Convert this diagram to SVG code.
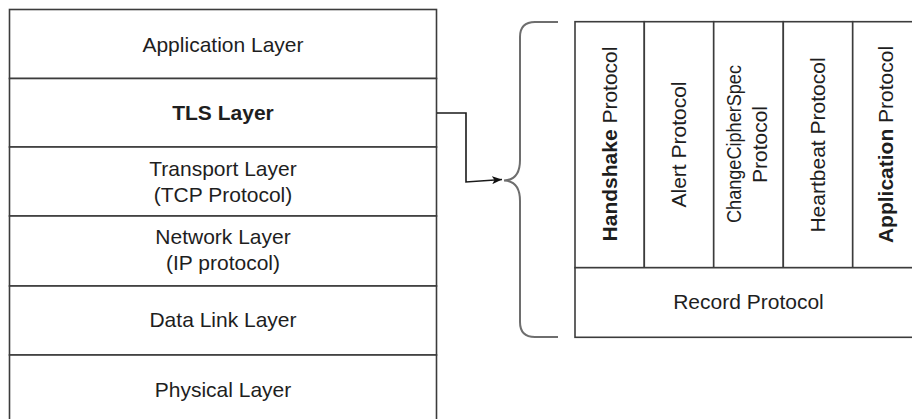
<svg xmlns="http://www.w3.org/2000/svg" width="912" height="419" viewBox="0 0 912 419">
<style>
.box{fill:#ffffff;stroke:#3c3c3c;stroke-width:1.6}
.t{font-family:"Liberation Sans",Arial,sans-serif;font-size:21px;fill:#1e1e1e;text-anchor:middle}
.b{font-weight:bold}
.conn{fill:none;stroke:#1a1a1a;stroke-width:1.6}
.brace{fill:none;stroke:#6e6e6e;stroke-width:2}
</style>
<defs>
<marker id="arr" viewBox="0 0 10 8" refX="10" refY="4" markerWidth="10" markerHeight="8" markerUnits="userSpaceOnUse" orient="auto">
<path d="M0,0 L10,4 L0,8 L2.5,4 Z" fill="#111"/>
</marker>
</defs>
<rect width="912" height="419" fill="#ffffff"/>
<g id="app-layer"><rect class="box" x="9.5" y="9.5" width="427" height="69"/><text class="t" x="223" y="52">Application Layer</text></g>
<g id="tls-layer"><rect class="box" x="9.5" y="78.5" width="427" height="68.5"/><text class="t b" x="223" y="120">TLS Layer</text></g>
<g id="transport-layer"><rect class="box" x="9.5" y="147" width="427" height="69"/><text class="t" x="223" y="176">Transport Layer</text><text class="t" x="223" y="202">(TCP Protocol)</text></g>
<g id="network-layer"><rect class="box" x="9.5" y="216" width="427" height="70"/><text class="t" x="223" y="244">Network Layer</text><text class="t" x="223" y="270">(IP protocol)</text></g>
<g id="datalink-layer"><rect class="box" x="9.5" y="286" width="427" height="69"/><text class="t" x="223" y="327">Data Link Layer</text></g>
<g id="physical-layer"><rect class="box" x="9.5" y="355" width="427" height="70"/><text class="t" x="223" y="397">Physical Layer</text></g>

<g id="connectors">
<polyline class="conn" points="437,113 466,113 466,182 502,179.5" marker-end="url(#arr)"/>
<path id="brace" class="brace" d="M558,22 H535 Q520,22 520,37 V160 Q520,180 504,180.5 Q520,181 520,201 V322 Q520,337 535,337 H558"/>
</g>

<g id="handshake"><rect class="box" x="575" y="21.7" width="69.3" height="246"/><text class="t" transform="translate(617,144) rotate(-90)"><tspan class="b">Handshake</tspan> Protocol</text></g>
<g id="alert"><rect class="box" x="644.3" y="21.7" width="69.4" height="246"/><text class="t" transform="translate(686,144.5) rotate(-90)">Alert Protocol</text></g>
<g id="changecipherspec"><rect class="box" x="713.7" y="21.7" width="69.6" height="246"/><text class="t" transform="translate(741,144) rotate(-90)" textLength="158" lengthAdjust="spacingAndGlyphs">ChangeCipherSpec</text><text class="t" transform="translate(767,144.5) rotate(-90)">Protocol</text></g>
<g id="heartbeat"><rect class="box" x="783.3" y="21.7" width="69.4" height="246"/><text class="t" transform="translate(825,145) rotate(-90)">Heartbeat Protocol</text></g>
<g id="application-protocol"><rect class="box" x="852.7" y="21.7" width="69.5" height="246"/><text class="t" transform="translate(893,144.5) rotate(-90)"><tspan class="b">Application</tspan> Protocol</text></g>
<g id="record"><rect class="box" x="575" y="267.7" width="347" height="69.6"/><text class="t" x="748.5" y="309">Record Protocol</text></g>
</svg>
